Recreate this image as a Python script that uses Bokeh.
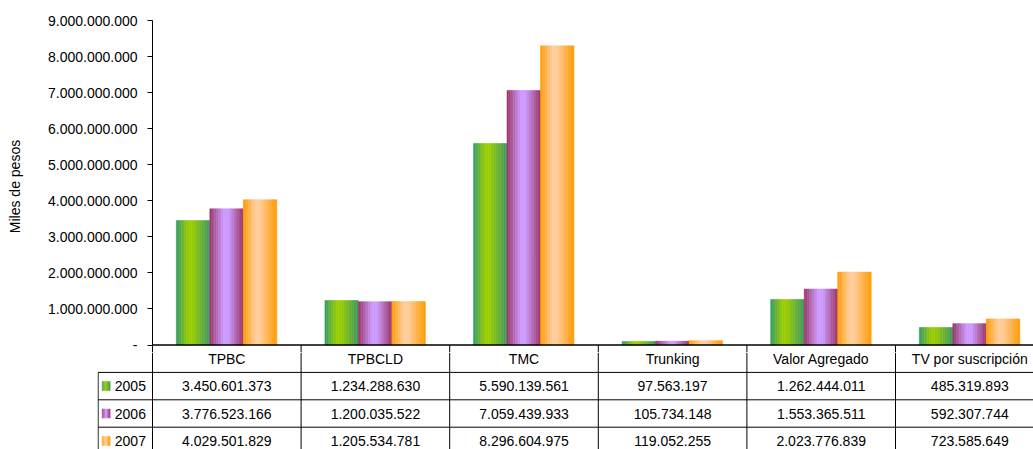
from bokeh.plotting import figure
from bokeh.models import Range1d, FixedTicker, ColumnDataSource
from bokeh.core.properties import value
from bokeh.embed import file_html
from bokeh.resources import INLINE

# ---------------- data ----------------
categories = ["TPBC", "TPBCLD", "TMC", "Trunking", "Valor Agregado", "TV por suscripción"]
years = ["2005", "2006", "2007"]
v2005 = [3450601373, 1234288630, 5590139561, 97563197, 1262444011, 485319893]
v2006 = [3776523166, 1200035522, 7059439933, 105734148, 1553365511, 592307744]
v2007 = [4029501829, 1205534781, 8296604975, 119052255, 2023776839, 723585649]
series = [v2005, v2006, v2007]
y_ticks = [0, 1000000000, 2000000000, 3000000000, 4000000000, 5000000000,
           6000000000, 7000000000, 8000000000, 9000000000]
tick_labels = ["-", "1.000.000.000", "2.000.000.000", "3.000.000.000", "4.000.000.000",
               "5.000.000.000", "6.000.000.000", "7.000.000.000", "8.000.000.000",
               "9.000.000.000"]
y_title = "Miles de pesos"

# ---------------- style ----------------
FONT = "Liberation Sans"
gradients = [
    [(0.0, "#33996a"), (0.36, "#99cc00"), (0.48, "#99cc00"), (1.0, "#3d9960")],
    [(0.0, "#993366"), (0.42, "#cc99ff"), (0.56, "#cc99ff"), (1.0, "#993366")],
    [(0.0, "#ff9900"), (0.36, "#ffcc99"), (0.5, "#ffcc99"), (1.0, "#ff9900")],
]


def hex2rgb(h):
    return tuple(int(h[i:i + 2], 16) for i in (1, 3, 5))


def grad(stops, t):
    for (t0, c0), (t1, c1) in zip(stops, stops[1:]):
        if t <= t1:
            f = (t - t0) / (t1 - t0) if t1 > t0 else 0.0
            a, b = hex2rgb(c0), hex2rgb(c1)
            return "#%02x%02x%02x" % tuple(round(a[k] + (b[k] - a[k]) * f) for k in range(3))
    return stops[-1][1]


def fmt(v):
    return f"{v:,}".replace(",", ".")


W = 1033
CHART_H = 352          # chart figure height (zero line at 344.5)
TABLE_H = 97           # table figure height
TOP_PX = 20            # 9e9 tick position
ZERO_PX = 344.5
CHART_LEFT = 152
TABLE_LEFT = 97
COL_PX = 148.6
ROW_PX = 27.4
ymax = 9e9
chart_px = ZERO_PX - TOP_PX
x_end = (W - CHART_LEFT) / COL_PX
y_min = -ymax * (CHART_H - ZERO_PX) / chart_px
ncat = len(categories)

# ---------------- chart figure ----------------
p = figure(width=W, height=CHART_H, output_backend="svg", toolbar_location=None,
           x_range=Range1d(0, x_end), y_range=Range1d(y_min, ymax),
           x_axis_location=None, y_axis_location="left")
p.min_border_left = CHART_LEFT
p.min_border_right = 0
p.min_border_top = TOP_PX
p.min_border_bottom = 0
p.outline_line_color = None
p.xgrid.visible = False
p.ygrid.visible = False

ax = p.yaxis[0]
ax.ticker = FixedTicker(ticks=y_ticks)
ax.major_label_overrides = {t: s for t, s in zip(y_ticks, tick_labels)}
ax.axis_line_color = "#000000"
ax.axis_line_width = 1
ax.major_tick_line_color = "#000000"
ax.major_tick_out = 5
ax.major_tick_in = 0
ax.minor_tick_line_color = None
ax.major_label_standoff = 10
ax.major_label_text_font = FONT
ax.major_label_text_font_size = "14px"
ax.major_label_text_color = "#000000"
ax.axis_label = y_title
ax.axis_label_text_font = FONT
ax.axis_label_text_font_size = "14px"
ax.axis_label_text_font_style = "normal"
ax.axis_label_text_color = "#000000"
ax.axis_label_standoff = 22

# bars with gradient strips
BAR_OFF, BAR_W, N = 0.16, 0.2255, 20
L, R, T, B, C = [], [], [], [], []
for j, vals in enumerate(series):
    for i, v in enumerate(vals):
        left = i + BAR_OFF + j * BAR_W
        for k in range(N):
            L.append(left + k * BAR_W / N)
            R.append(left + (k + 1) * BAR_W / N)
            T.append(v)
            B.append(0)
            C.append(grad(gradients[j], (k + 0.5) / N))
src = ColumnDataSource(dict(left=L, right=R, top=T, bottom=B, color=C))
p.quad(left="left", right="right", top="top", bottom="bottom", source=src,
       fill_color="color", line_color="color", line_width=0.5)

# top of the table (zero line + start of column borders)
p.segment(x0=[0], y0=[0], x1=[x_end], y1=[0], line_color="#000000", line_width=1.3)
p.segment(x0=list(range(1, ncat + 1)), y0=[0] * ncat, x1=list(range(1, ncat + 1)),
          y1=[y_min] * ncat, line_color="#000000", line_width=1)

# ---------------- table figure ----------------
t_top = -(CHART_H - ZERO_PX) / ROW_PX
t_bot = -(CHART_H + TABLE_H - ZERO_PX) / ROW_PX
x_start_t = -(CHART_LEFT - TABLE_LEFT) / COL_PX
q = figure(width=W, height=TABLE_H, output_backend="svg", toolbar_location=None,
           x_range=Range1d(x_start_t, x_end), y_range=Range1d(t_bot, t_top),
           x_axis_location=None, y_axis_location=None)
q.min_border_left = TABLE_LEFT
q.min_border_right = 0
q.min_border_top = 0
q.min_border_bottom = 0
q.outline_line_color = None
q.xgrid.visible = False
q.ygrid.visible = False

LEG_L = (97.6 - CHART_LEFT) / COL_PX
# vertical borders
vx = list(range(0, ncat + 1))
q.segment(x0=vx, y0=[t_top] * len(vx), x1=vx, y1=[t_bot] * len(vx),
          line_color="#000000", line_width=1)
q.segment(x0=[LEG_L], y0=[-1], x1=[LEG_L], y1=[t_bot], line_color="#000000", line_width=1)
# horizontal borders
q.segment(x0=[LEG_L] * 3, y0=[-1, -2, -3], x1=[x_end] * 3, y1=[-1, -2, -3],
          line_color="#000000", line_width=1)

tx = [i + 0.5 for i in range(ncat)]
q.text(x=tx, y=[-0.5] * ncat, text=categories,
       text_font=value(FONT), text_font_size="14px", text_align="center",
       text_baseline="middle", text_color="#000000")
for r, vals in enumerate(series, start=1):
    q.text(x=tx, y=[-(r + 0.5)] * len(vals), text=[fmt(v) for v in vals],
           text_font=value(FONT), text_font_size="14px",
           text_align="center", text_baseline="middle", text_color="#000000")

# legend keys
SW_L = (101.7 - CHART_LEFT) / COL_PX
SW_W = 8.0 / COL_PX
SW_H = 9.0 / ROW_PX
sl, sr, st, sb, sc = [], [], [], [], []
for r, stops in enumerate(gradients, start=1):
    yc = -(r + 0.5)
    ns = 5
    for k in range(ns):
        sl.append(SW_L + k * SW_W / ns)
        sr.append(SW_L + (k + 1) * SW_W / ns)
        st.append(yc + SW_H / 2)
        sb.append(yc - SW_H / 2)
        sc.append(grad(stops, (k + 0.5) / ns))
q.quad(left=sl, right=sr, top=st, bottom=sb, fill_color=sc, line_color=sc, line_width=0.5)
q.text(x=[(114.3 - CHART_LEFT) / COL_PX] * 3, y=[-(r + 0.5) for r in range(1, 4)], text=years,
       text_font=value(FONT), text_font_size="14px", text_align="left",
       text_baseline="middle", text_color="#000000")

open("out.html", "w").write(file_html([p, q], INLINE))
